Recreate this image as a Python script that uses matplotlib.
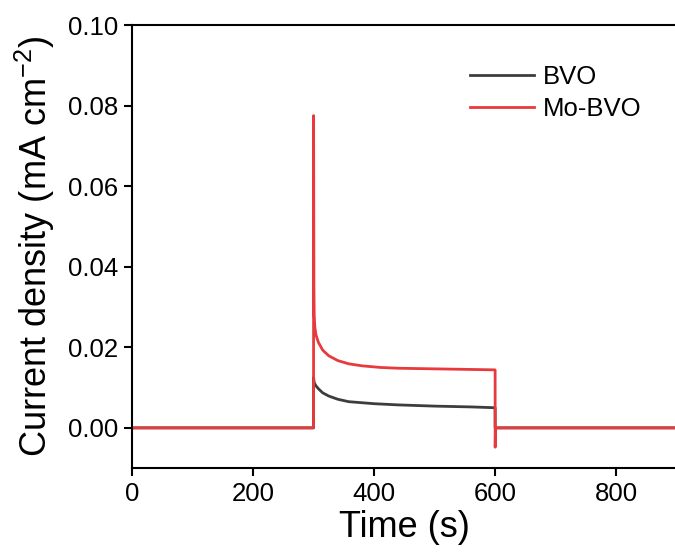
import numpy as np
import matplotlib
matplotlib.use('Agg')
import matplotlib.pyplot as plt

# time (s) and current density (mA cm-2)
t_bvo = [0, 299.9, 300, 301, 304, 308, 315, 325, 340, 358, 400, 440, 500, 560, 599.9, 600, 900]
j_bvo = [0, 0, 0.0125, 0.0112, 0.0104, 0.0097, 0.0087, 0.0079, 0.0071, 0.0065,
         0.0060, 0.0057, 0.0054, 0.0052, 0.0050, 0, 0]

t_mo = [0, 299.9, 300, 300.5, 301, 302, 304, 308, 315, 325, 340, 358, 380, 410,
        440, 480, 520, 560, 599.9, 600, 600.5, 900]
j_mo = [0, 0, 0.0775, 0.035, 0.028, 0.025, 0.023, 0.0212, 0.0193, 0.0179, 0.0167,
        0.0159, 0.0154, 0.0150, 0.0148, 0.0147, 0.0146, 0.0145, 0.0144, -0.0048, 0, 0]

labels = ['BVO', 'Mo-BVO']
colors = ['#3d3d3d', '#e8393c']

x_ticks = [0, 200, 400, 600, 800]
y_ticks = [0.00, 0.02, 0.04, 0.06, 0.08, 0.10]

plt.rcParams['font.family'] = ['Liberation Sans', 'DejaVu Sans']
plt.rcParams['mathtext.fontset'] = 'custom'
plt.rcParams['mathtext.rm'] = 'Liberation Sans'
plt.rcParams['mathtext.it'] = 'Liberation Sans:italic'

fig = plt.figure(figsize=(6.75, 5.56), dpi=100)
ax = fig.add_axes([0.1956, 0.158, 0.807, 0.797])

ax.plot(t_bvo, j_bvo, color=colors[0], lw=2.0, label=labels[0])
ax.plot(t_mo, j_mo, color=colors[1], lw=2.0, label=labels[1])

ax.set_xlim(0, 900)
ax.set_ylim(-0.01, 0.10)
ax.set_xticks(x_ticks)
ax.set_yticks(y_ticks)
ax.set_yticklabels([f'{v:.2f}' for v in y_ticks])
ax.tick_params(direction='out', length=6, width=1.5, labelsize=18.5, pad=4)

for side in ['left', 'bottom', 'top']:
    ax.spines[side].set_linewidth(1.5)
ax.spines['right'].set_visible(False)

ax.set_xlabel('Time (s)', fontsize=26, labelpad=3)
ax.set_ylabel('Current density (mA cm$^{\\mathrm{-2}}$)', fontsize=26, labelpad=8)

ax.legend(loc='upper left', bbox_to_anchor=(0.62, 0.91), frameon=False,
          fontsize=18.5, handlelength=2.5, handletextpad=0.35,
          labelspacing=0.3, borderpad=0, borderaxespad=0)

fig.savefig('out.png', dpi=100)
